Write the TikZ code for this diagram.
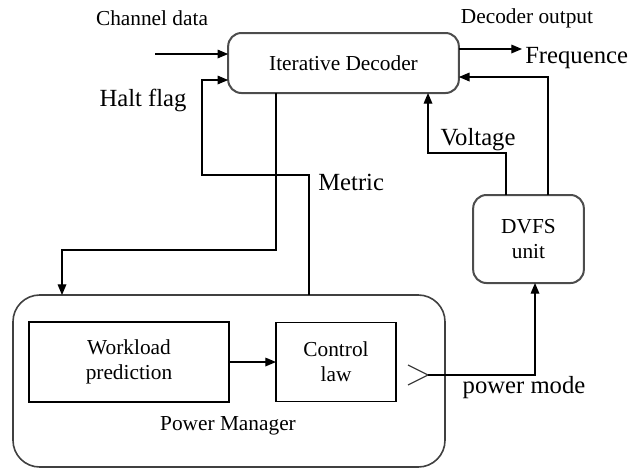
\documentclass[tikz,border=0pt]{standalone}
\usepackage{fontspec}
\setmainfont{Liberation Serif}
\usetikzlibrary{arrows.meta}

\begin{document}
\begin{tikzpicture}[x=0.75pt, y=-0.75pt,
    wire/.style={line width=0.9pt},
    arr/.style={wire, -{Triangle[length=8pt,width=6.5pt]}},
    rbox/.style={draw=black!70, line width=1.5pt, rounded corners=10pt, inner sep=0pt, outer sep=0pt, align=center, font=\fontsize{16}{19}\selectfont},
    sbox/.style={draw, line width=1.2pt, inner sep=0pt, outer sep=0pt, align=center, font=\fontsize{16}{19}\selectfont},
    txt/.style={inner sep=0pt, font=\fontsize{16}{19}\selectfont},
    bigtxt/.style={inner sep=0pt, font=\fontsize{18.5}{22}\selectfont}]
\useasboundingbox (0,0) rectangle (642,469);

    % blocks
    \node (dec) [rbox, minimum width=173pt, minimum height=45pt] at (343.5,63) {Iterative Decoder};
    \node (dvfs) [rbox, minimum width=83pt, minimum height=66pt] at (528.5,239) {DVFS\\unit};
    \node (pm) [rbox, draw=black!75, line width=1.2pt, rounded corners=20pt, minimum width=324pt, minimum height=129pt] at (229,381) {};
    \node (wl) [sbox, minimum width=150pt, minimum height=60pt] at (129,362) {Workload\\prediction};
    \node (cl) [sbox, minimum width=90pt, minimum height=59pt] at (336,362) {Control\\law};
    \node (pmlbl) [txt] at (228,426) {Power Manager};

    % labels
    \node (chlbl) [txt] at (152,18) {Channel data};
    \node (outlbl) [txt] at (527,18) {Decoder output};
    \node (freqlbl) [bigtxt, anchor=west] at (525,58) {Frequence};
    \node (haltlbl) [bigtxt] at (143,100) {Halt flag};
    \node (metlbl) [bigtxt, anchor=west] at (318,182) {Metric};
    \node (voltlbl) [bigtxt] at (478,140) {Voltage};
    \node (pwrlbl) [bigtxt] at (524,388) {power mode};

    % bends of the wires
    \coordinate (chin) at (155,54);
    \coordinate (decout) at (522,49);
    \coordinate (metbend) at (276,250);
    \coordinate (metdrop) at (62,250);
    \coordinate (haltup) at (309,175);
    \coordinate (haltleft) at (202,175);
    \coordinate (haltin) at (202,80);
    \coordinate (voltup) at (506,153);
    \coordinate (voltleft) at (428,153);
    \coordinate (frequp) at (548,77);
    \coordinate (pmout) at (428,375);
    \coordinate (pmbend) at (535,375);

    \draw[arr] (chin) -- (chin -| dec.west);
    \draw[arr] (dec.east |- decout) -- (decout);
    \draw[arr] (dec.south -| metbend) -- (metbend) -- (metdrop) -- (metdrop |- pm.north);
    \draw[arr] (pm.north -| haltup) -- (haltup) -- (haltleft) -- (haltin) -- (haltin -| dec.west);
    \draw[arr] (dvfs.north -| voltup) -- (voltup) -- (voltleft) -- (voltleft |- dec.south);
    \draw[arr] (dvfs.north -| frequp) -- (frequp) -- (frequp -| dec.east);
    \draw[arr] (wl.east) -- (cl.west);
    \draw[wire, black!75] (pmout) ++(-20,-10) -- (pmout) -- ++(-20,10);
    \draw[arr] (pmout) -- (pmbend) -- (pmbend |- dvfs.south);
\end{tikzpicture}
\end{document}
